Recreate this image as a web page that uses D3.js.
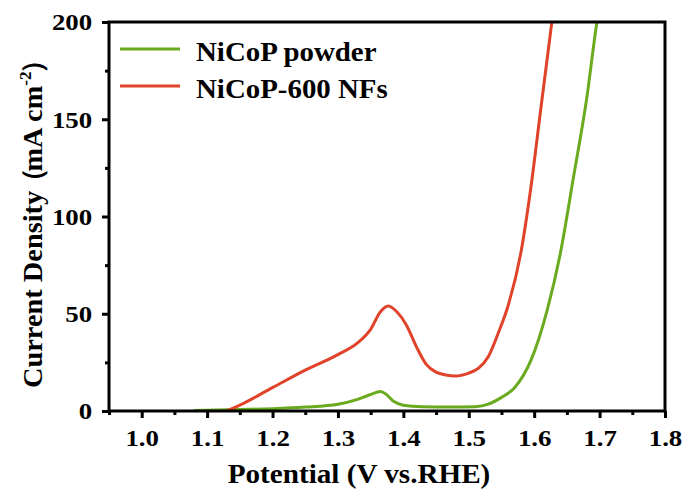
<!DOCTYPE html>
<html>
<head>
<meta charset="utf-8">
<script src="https://cdn.jsdelivr.net/npm/d3@7"></script>
<style>
  body { margin: 0; background: #fff; }
  svg text { font-family: "Times New Roman", "Liberation Serif", Times, serif; font-weight: bold; }
</style>
</head>
<body>
<script>
// series (potential V, current mA cm-2)
let powderX = [1.08, 1.15, 1.2, 1.25, 1.3, 1.33, 1.35, 1.365, 1.372, 1.385, 1.4, 1.43, 1.47, 1.51, 1.53, 1.55, 1.57, 1.595, 1.62, 1.64, 1.66, 1.68, 1.696, 1.71]
let powderY = [0.3, 0.8, 1.2, 2, 3.5, 6, 8.5, 10, 9, 5, 3, 2.2, 2, 2.2, 3.5, 7, 12, 26, 52, 81, 120, 160, 200, 225]
let nfsX = [1.13, 1.15, 1.2, 1.25, 1.3, 1.33, 1.35, 1.365, 1.377, 1.39, 1.405, 1.42, 1.435, 1.45, 1.465, 1.48, 1.5, 1.515, 1.53, 1.545, 1.56, 1.58, 1.595, 1.61, 1.627, 1.64]
let nfsY = [0, 3, 12, 21, 29, 35, 42, 51, 54, 51, 44, 33, 24, 20, 18.5, 18, 19.5, 22, 28, 40, 54, 82, 115, 155, 200, 235]

let seriesNames = ["NiCoP powder", "NiCoP-600 NFs"]
let seriesColors = ["#6aaa1e", "#e0432a"]
let xTicks = [1.0, 1.1, 1.2, 1.3, 1.4, 1.5, 1.6, 1.7, 1.8]
let yTicks = [0, 50, 100, 150, 200]

let w = 688
let h = 497
let pl = 109, pr = 665, pt = 22, pb = 411

let x = d3.scaleLinear().domain([0.95, 1.8]).range([pl, pr])
let y = d3.scaleLinear().domain([0, 200]).range([pb, pt])

let svg = d3.select('body').append('svg')
    .attr('width', w)
    .attr('height', h)

svg.append('defs').append('clipPath').attr('id', 'clip')
    .append('rect')
    .attr('x', pl).attr('y', pt)
    .attr('width', pr - pl).attr('height', pb - pt)

let line = d3.line()
    .x(d => x(d[0]))
    .y(d => y(d[1]))
    .curve(d3.curveMonotoneX)

let series = [
    d3.zip(powderX, powderY),
    d3.zip(nfsX, nfsY)
]

svg.append('g').attr('clip-path', 'url(#clip)')
    .selectAll('path')
    .data(series).enter().append('path')
        .attr('d', line)
        .attr('fill', 'none')
        .attr('stroke', (d, i) => seriesColors[i])
        .attr('stroke-width', 3)

// frame
svg.append('rect')
    .attr('x', pl).attr('y', pt)
    .attr('width', pr - pl).attr('height', pb - pt)
    .attr('fill', 'none')
    .attr('stroke', '#000')
    .attr('stroke-width', 3)

// minor ticks
let xMinor = [0.95, 1.05, 1.15, 1.25, 1.35, 1.45, 1.55, 1.65, 1.75]
let yMinor = [25, 75, 125, 175]

svg.append('g')
    .attr('class', 'xaxis')
    .attr('transform', `translate(0,${pb})`)
    .call(d3.axisBottom(x).tickValues(xTicks).tickFormat(d3.format('.1f')).tickSize(7).tickPadding(20))
svg.append('g')
    .attr('transform', `translate(0,${pb})`)
    .call(d3.axisBottom(x).tickValues(xMinor).tickFormat('').tickSize(4))

svg.append('g')
    .attr('class', 'yaxis')
    .attr('transform', `translate(${pl},0)`)
    .call(d3.axisLeft(y).tickValues(yTicks).tickSize(7).tickPadding(8))
svg.append('g')
    .attr('transform', `translate(${pl},0)`)
    .call(d3.axisLeft(y).tickValues(yMinor).tickFormat('').tickSize(4))

svg.selectAll('.domain').remove()
svg.selectAll('g').attr('font-family', null)
svg.selectAll('.tick line').attr('stroke', '#000').attr('stroke-width', 3)
svg.selectAll('.tick text')
    .attr('font-size', 24)
    .attr('fill', '#000')
// text in the picture is drawn a little wider than the font
svg.selectAll('.xaxis .tick text').attr('dy', '0.35em').attr('transform', 'scale(1.12,1)')
svg.selectAll('.yaxis .tick text').attr('dy', '0.33em').attr('transform', 'scale(1.12,1)')

// axis titles
svg.append('text')
    .attr('transform', 'translate(359,483) scale(1.08,1)')
    .attr('text-anchor', 'middle')
    .attr('font-size', 27)
    .text('Potential (V vs.RHE)')

let yTitle = svg.append('text')
    .attr('transform', 'translate(42,388) rotate(-90)')
    .attr('font-size', 28)
    .attr('textLength', 342)
    .attr('lengthAdjust', 'spacingAndGlyphs')
yTitle.append('tspan').text('Current Density')
yTitle.append('tspan').attr('dx', -5).text('（')
yTitle.append('tspan').attr('dx', -4).text('mA cm')
yTitle.append('tspan').attr('font-size', 17).attr('dy', -11).text('-2')
yTitle.append('tspan').attr('dy', 11).attr('dx', -3).text('）')

// legend
let legend = svg.append('g')
seriesNames.forEach((name, i) => {
    let ly = 49 + i * 37
    legend.append('line')
        .attr('x1', 120).attr('x2', 180)
        .attr('y1', ly).attr('y2', ly)
        .attr('stroke', seriesColors[i])
        .attr('stroke-width', 3)
    legend.append('text')
        .attr('transform', `translate(196,${ly + 11.5}) scale(1.07,1)`)
        .attr('font-size', 27)
        .text(name)
})
</script>
</body>
</html>
